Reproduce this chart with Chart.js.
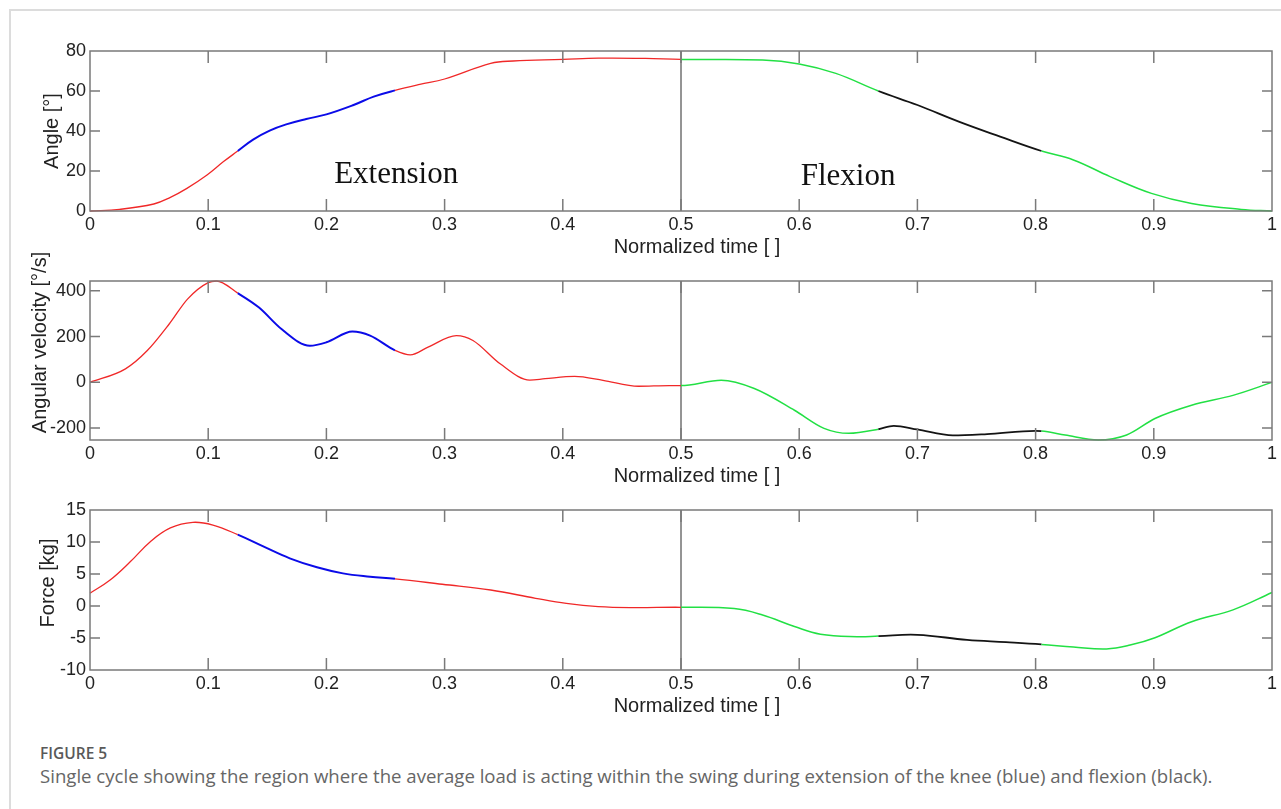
<!DOCTYPE html>
<html>
<head>
<meta charset="utf-8">
<script src="https://cdn.jsdelivr.net/npm/chart.js@4"></script>
<style>
    body { margin: 0; background: #fff; width: 1281px; height: 809px; overflow: hidden; position: relative; }
    #frame { position: absolute; left: 9px; top: 9px; width: 1300px; height: 900px; border-left: 2px solid #dcdcdc; border-top: 2px solid #dcdcdc; }
    canvas { position: absolute; left: 0; }
    #figLabel { position: absolute; left: 40px; top: 742px; font: 600 15.5px 'Open Sans', sans-serif; color: #595959; }
    #figCaption { position: absolute; left: 40px; top: 763px; font: 18.6px 'Open Sans', sans-serif; color: #666; white-space: nowrap; }
</style>
</head>
<body>
<div id="frame"></div>
<canvas id="angleChart" style="top:30px"></canvas>
<canvas id="velocityChart" style="top:240px"></canvas>
<canvas id="forceChart" style="top:490px"></canvas>
<div id="figLabel">FIGURE 5</div>
<div id="figCaption">Single cycle showing the region where the average load is acting within the swing during extension of the knee (blue) and flexion (black).</div>
<script>
// normalized time (x) and values
const angleTime = [0, 0.025, 0.054, 0.068, 0.082, 0.099, 0.113, 0.125, 0.138, 0.152, 0.166, 0.183, 0.2, 0.223, 0.24, 0.258, 0.279, 0.3, 0.339, 0.358, 0.4, 0.43, 0.47, 0.5, 0.569, 0.6, 0.631, 0.667, 0.7, 0.735, 0.77, 0.805, 0.832, 0.863, 0.898, 0.932, 0.974, 1];
const angleValues = [0, 0.8, 3.5, 6.8, 11.3, 18, 24.7, 30, 35.7, 40.2, 43.3, 46, 48.3, 53, 57.2, 60.3, 63.3, 66, 73.8, 75.0, 75.8, 76.4, 76.3, 75.8, 75.5, 73.5, 68.8, 60, 53, 44.7, 37.2, 30, 25.5, 17.2, 8.8, 3.8, 0.8, 0];

const velocityTime = [0, 0.03, 0.0485, 0.067, 0.0825, 0.1, 0.107, 0.125, 0.143, 0.162, 0.186, 0.2, 0.222, 0.237, 0.258, 0.271, 0.286, 0.31, 0.324, 0.347, 0.372, 0.385, 0.41, 0.434, 0.464, 0.49, 0.5, 0.534, 0.562, 0.596, 0.621, 0.642, 0.667, 0.68, 0.7, 0.73, 0.759, 0.8, 0.805, 0.825, 0.853, 0.877, 0.901, 0.932, 0.967, 1];
const velocityValues = [0, 59, 139, 255, 364, 436, 443, 390, 327, 233, 160, 175, 222, 204, 140, 120, 154, 204, 183, 81, 10, 16, 26, 9, -17, -14, -14, 9, -27, -122, -201, -223, -205, -190, -206, -232, -226, -212, -213, -230, -252, -230, -158, -100, -57, 0];

const forceTime = [0, 0.017, 0.034, 0.051, 0.068, 0.087, 0.104, 0.125, 0.147, 0.169, 0.192, 0.214, 0.237, 0.258, 0.298, 0.339, 0.377, 0.403, 0.43, 0.46, 0.5, 0.545, 0.569, 0.596, 0.618, 0.649, 0.667, 0.7, 0.742, 0.775, 0.805, 0.832, 0.86, 0.88, 0.901, 0.932, 0.967, 1];
const forceValues = [2, 4.06, 6.9, 10.05, 12.2, 13.07, 12.65, 11.15, 9.27, 7.45, 6.05, 5.1, 4.58, 4.25, 3.4, 2.5, 1.2, 0.4, -0.1, -0.25, -0.2, -0.4, -1.4, -3.2, -4.4, -4.8, -4.7, -4.5, -5.3, -5.65, -6.0, -6.4, -6.7, -6.1, -4.95, -2.45, -0.6, 2.1];

// load windows
const extensionLoad = [0.125, 0.258];
const flexionLoad = [0.667, 0.805];
const swingSplit = 0.5;

const phaseLabels = [
    { text: 'Extension', x: 0.259, y: 13.85 },
    { text: 'Flexion', x: 0.6413, y: 13 },
];

const tickFont = { family: 'Liberation Sans, Arial, sans-serif', size: 18 };
const titleFontCss = '20px "Liberation Sans", Arial, sans-serif';

function segColor(ctx) {
    const x = ctx.p0.parsed.x + 1e-9;
    if (x < swingSplit) return x >= extensionLoad[0] && x < extensionLoad[1] ? '#0b0be8' : '#f02828';
    return x >= flexionLoad[0] && x < flexionLoad[1] ? '#141414' : '#22e044';
}
function segWidth(ctx) {
    const x = ctx.p0.parsed.x + 1e-9;
    if (x < swingSplit) return x >= extensionLoad[0] && x < extensionLoad[1] ? 2 : 1.3;
    return x >= flexionLoad[0] && x < flexionLoad[1] ? 1.8 : 1.5;
}

const framePlugin = {
    id: 'frame',
    beforeDatasetsDraw(chart) {
        const { ctx, chartArea: a, scales } = chart;
        const px = scales.x.getPixelForValue(swingSplit);
        ctx.save();
        ctx.strokeStyle = '#2a2a2a';
        ctx.lineWidth = 1;
        ctx.beginPath();
        ctx.moveTo(px, a.top);
        ctx.lineTo(px, a.bottom);
        ctx.stroke();
        ctx.restore();
    },
    afterDatasetsDraw(chart) {
        const { ctx, chartArea: a, scales } = chart;
        const o = chart.options.plugins.frame;
        ctx.save();
        ctx.strokeStyle = '#7a7a7a';
        ctx.lineWidth = 1.5;
        ctx.strokeRect(a.left, a.top, a.right - a.left, a.bottom - a.top);
        ctx.beginPath();
        scales.x.ticks.forEach((t) => {
            if (t.value <= 0.001 || t.value >= 0.999) return;
            const p = scales.x.getPixelForValue(t.value);
            ctx.moveTo(p, a.bottom);
            ctx.lineTo(p, a.bottom - 12);
            ctx.moveTo(p, a.top);
            ctx.lineTo(p, a.top + 12);
        });
        scales.y.ticks.forEach((t) => {
            const p = scales.y.getPixelForValue(t.value);
            if (p <= a.top + 1 || p >= a.bottom - 1) return;
            ctx.moveTo(a.left, p);
            ctx.lineTo(a.left + 10, p);
            ctx.moveTo(a.right, p);
            ctx.lineTo(a.right - 10, p);
        });
        ctx.stroke();

        // axis titles
        ctx.fillStyle = '#222';
        ctx.font = titleFontCss;
        ctx.textAlign = 'center';
        ctx.textBaseline = 'middle';
        ctx.fillText('Normalized time [ ]', (a.left + a.right) / 2 + 16, a.bottom + 36);
        ctx.save();
        ctx.translate(o.yTitleX, (a.top + a.bottom) / 2 + o.yTitleShift);
        ctx.rotate(-Math.PI / 2);
        ctx.fillText(o.yTitle, 0, 0);
        ctx.restore();

        ctx.fillStyle = '#111';
        ctx.font = '31px "Liberation Serif", "Times New Roman", serif';
        ctx.textBaseline = 'alphabetic';
        (o.labels || []).forEach((l) => {
            ctx.fillText(l.text, scales.x.getPixelForValue(l.x), scales.y.getPixelForValue(l.y));
        });
        ctx.restore();
    },
};

function makeChart(id, time, values, opts) {
    const canvas = document.getElementById(id);
    canvas.width = 1281;
    canvas.height = opts.height;
    return new Chart(canvas, {
        type: 'line',
        data: {
            datasets: [
                {
                    data: time.map((t, i) => ({ x: t, y: values[i] })),
                    pointRadius: 0,
                    borderWidth: 1.5,
                    cubicInterpolationMode: opts.mode,
                    tension: 0.4,
                    segment: { borderColor: segColor, borderWidth: segWidth },
                    clip: 4,
                },
            ],
        },
        options: {
            responsive: false,
            animation: false,
            events: [],
            layout: { autoPadding: false, padding: { left: 0, right: 9, top: opts.padTop, bottom: 0 } },
            scales: {
                x: {
                    type: 'linear',
                    min: 0,
                    max: 1,
                    grid: { display: false, drawTicks: false },
                    border: { display: false },
                    ticks: {
                        stepSize: 0.1,
                        padding: 3,
                        maxRotation: 0,
                        autoSkip: false,
                        font: tickFont,
                        color: '#222',
                        callback: (v) => String(Math.round(v * 10) / 10),
                    },
                    afterFit: (s) => { s.height = opts.height - opts.padTop - opts.plotHeight; },
                },
                y: {
                    min: opts.min,
                    max: opts.max,
                    grid: { display: false, drawTicks: false },
                    border: { display: false },
                    ticks: { stepSize: opts.step, includeBounds: false, padding: 4, font: tickFont, color: '#222' },
                    afterFit: (s) => { s.width = 90; },
                },
            },
            plugins: {
                legend: { display: false },
                tooltip: { enabled: false },
                frame: { labels: opts.labels || [], yTitle: opts.yTitle, yTitleX: opts.yTitleX, yTitleShift: opts.yTitleShift },
            },
        },
        plugins: [framePlugin],
    });
}

makeChart('angleChart', angleTime, angleValues, { min: 0, max: 80, step: 20, yTitle: 'Angle [°]', yTitleX: 52, yTitleShift: 0, height: 230, padTop: 21, plotHeight: 160, mode: 'default', labels: phaseLabels });
makeChart('velocityChart', velocityTime, velocityValues, { min: -252, max: 443, step: 200, yTitle: 'Angular velocity [°/s]', yTitleX: 40, yTitleShift: -18, height: 250, padTop: 41, plotHeight: 159, mode: 'monotone' });
makeChart('forceChart', forceTime, forceValues, { min: -10, max: 15, step: 5, yTitle: 'Force [kg]', yTitleX: 48, yTitleShift: -7, height: 230, padTop: 20, plotHeight: 160, mode: 'default' });
</script>
</body>
</html>
